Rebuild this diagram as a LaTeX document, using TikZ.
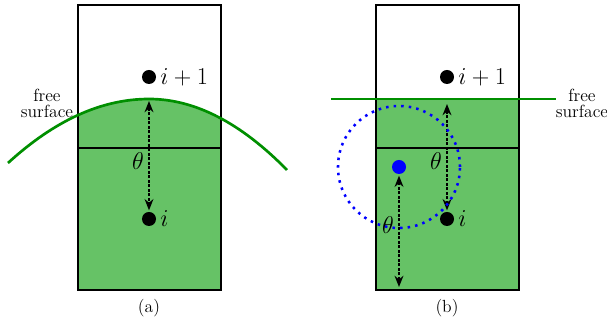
\documentclass[tikz,border=0pt]{standalone}
\usepackage{amsmath}
\usepackage{xcolor}
\usetikzlibrary{arrows.meta,positioning}
\definecolor{wfill}{HTML}{66C266}
\definecolor{wline}{HTML}{008F00}
\tikzset{
  >={Stealth[length=2.8mm,width=2.2mm]},
  wcell/.style={draw=black, line width=1.2pt},
  wsurf/.style={draw=wline, line width=1.9pt},
  wnode/.style={circle, fill=black, minimum size=3.5mm, inner sep=0pt},
  wghost/.style={circle, fill=blue, minimum size=3.5mm, inner sep=0pt},
  wdist/.style={<->, line width=2pt, dash pattern=on 2pt off 1.2pt},
  wreach/.style={blue, line width=1.8pt, dash pattern=on 1.8pt off 3.6pt},
  wlbl/.style={font=\fontsize{16}{19}\selectfont, inner sep=1pt},
  wtxt/.style={align=center, font=\fontsize{12.5}{11.5}\selectfont, inner sep=0pt},
  wcap/.style={font=\fontsize{12.5}{15}\selectfont},
}

\begin{document}
\begin{tikzpicture}[x=0.025cm,y=-0.025cm]
  \useasboundingbox (0,0) rectangle (607,326);

  % ---- (a): curved free surface ----
  \begin{scope}
    \clip (78,5) rectangle (221,290);
    \fill[wfill] (8,163) .. controls (55,120) and (102,99) .. (149,99)
      .. controls (195,99) and (241,123) .. (287,170)
      -- (287,290) -- (8,290) -- cycle;
  \end{scope}
  \draw[wcell] (78,5) rectangle (221,290);
  \draw[wcell] (78,148) -- (221,148);
  \draw[wsurf] (8,163) .. controls (55,120) and (102,99) .. (149,99)
    .. controls (195,99) and (241,123) .. (287,170);
  \node[wnode] (upa) at (149,77) {};
  \node[wnode] (loa) at (149,219) {};
  \node[wlbl, right=0.6mm of upa] (lupa) {$i+1$};
  \node[wlbl, right=0.6mm of loa] (lloa) {$i$};
  \coordinate (topa) at (149,101);
  \draw[wdist, shorten >=1pt] (topa) -- (loa);
  \node[wlbl] (tha) at (138,161) {$\theta$};
  \node[wtxt] (fsa) at (47,103) {free\\surface};
  \node[wcap] (capa) at (149,308) {(a)};

  % ---- (b): flat free surface, ghost point ----
  \begin{scope}[shift={(298,0)}]
    \fill[wfill] (78,99) rectangle (221,290);
    \draw[wcell] (78,5) rectangle (221,290);
    \draw[wcell] (78,148) -- (221,148);
    \draw[wsurf] (33,99) -- (258,99);
    \node[wnode] (upb) at (149,77) {};
    \node[wnode] (lob) at (149,219) {};
    \node[wlbl, right=0.6mm of upb] (lupb) {$i+1$};
    \node[wlbl, right=0.6mm of lob] (llob) {$i$};
    \coordinate (topb) at (149,104);
    \draw[wdist, shorten >=1pt] (topb) -- (lob);
    \node[wlbl] (thb) at (138,161) {$\theta$};
    \node[wghost] (gh) at (101,167) {};
    \draw[wreach] (gh) circle[radius=1.525cm];
    \coordinate (botb) at (101,287);
    \draw[wdist, shorten <=1pt] (gh) -- (botb);
    \node[wlbl] (thc) at (90,225) {$\theta$};
    \node[wtxt] (fsb) at (284,103) {free\\surface};
    \node[wcap] (capb) at (149,308) {(b)};
  \end{scope}
\end{tikzpicture}
\end{document}
